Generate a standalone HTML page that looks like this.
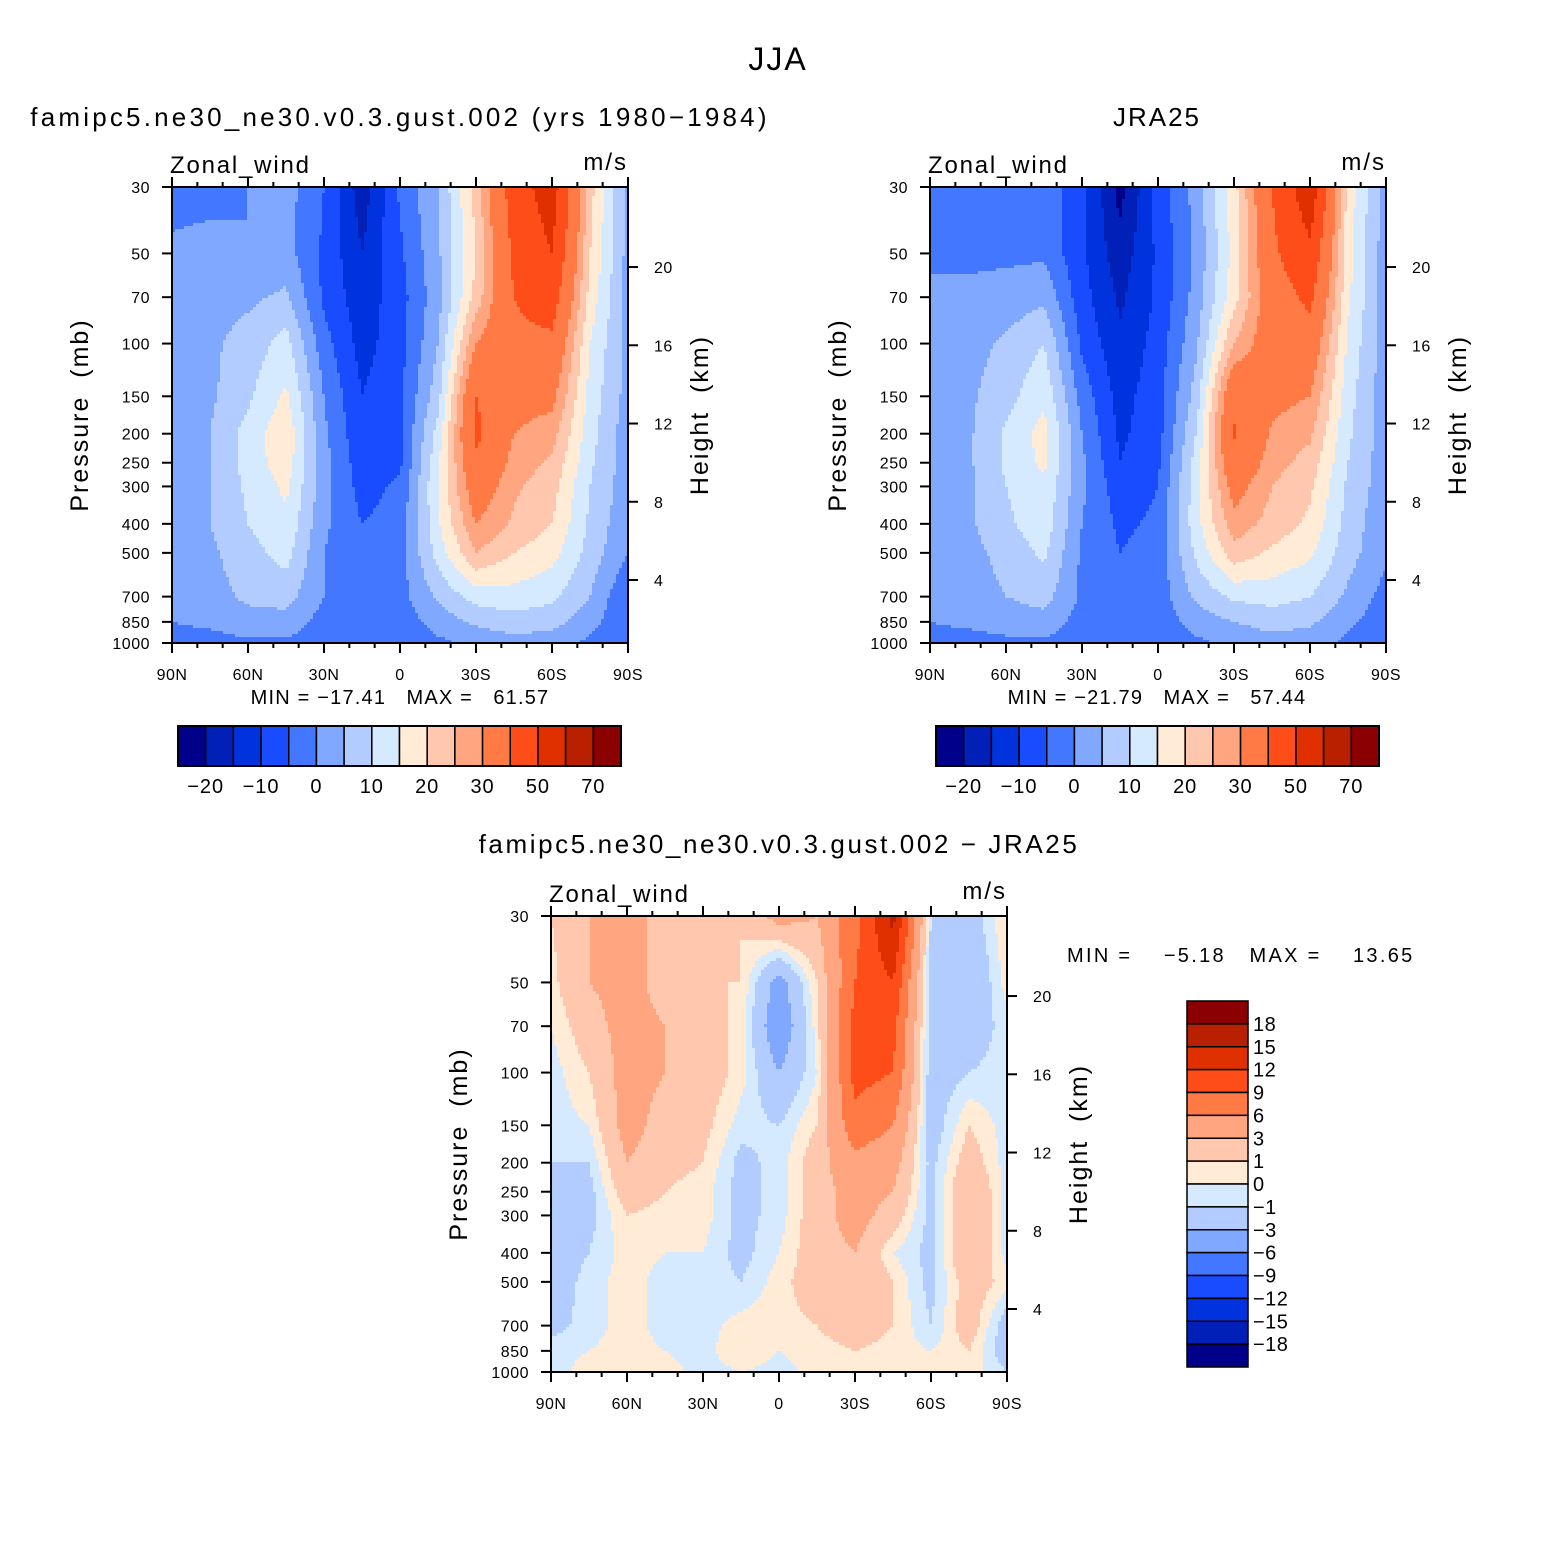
<!DOCTYPE html>
<html><head><meta charset="utf-8">
<style>
body{margin:0;background:#fff;}
svg text{font-family:"Liberation Sans",sans-serif;fill:#000;white-space:pre;}
</style></head>
<body>
<svg id="fig" xmlns="http://www.w3.org/2000/svg" width="1558" height="1558" viewBox="0 0 1558 1558">
<rect width="1558" height="1558" fill="#fff"/>
<text x="778" y="70" font-size="32" letter-spacing="2" text-anchor="middle">JJA</text>
</svg>
<script>
// ---- data ----
const lats = [90,75,60,45,30,15,0,-15,-30,-45,-60,-75,-90];
const plevs = [30,50,70,100,150,200,250,300,400,500,700,850,1000];
const pTickLabels = [30,50,70,100,150,200,250,300,400,500,700,850,1000];
const kmTickLabels = [4,8,12,16,20];
const latTickLabels = ["90N","60N","30N","0","30S","60S","90S"];
const mainLevels = [-20,-15,-10,-5,0,5,10,15,20,25,30,40,50,60,70];
const mainCbLabels = ["−20","−10","0","10","20","30","50","70"];
const diffLevels = [-18,-15,-12,-9,-6,-3,-1,0,1,3,6,9,12,15,18];
const diffCbLabels = ["18","15","12","9","6","3","1","0","−1","−3","−6","−9","−12","−15","−18"];
const colors = ["#00008a","#0020b8","#0033dd","#1a4cff","#4477ff","#80a8ff","#b3ccff","#d6eaff","#ffebd6","#ffc8ae","#ffa680","#ff7a45","#ff4d1a","#e03000","#b82000","#8b0000"];
const modelU = [
[-2,-2,0,2,-5,-18,-4,5,22,45,55,22,3],
[1,2,0,2,-6,-15,-6,4,20,42,50,20,3],
[2,3,4,6,-6,-13,-7,3,22,40,45,18,3],
[2,4,7,12,-3,-12,-7,5,30,38,38,15,3],
[2,4,9,16,0,-10,-6,8,40,33,32,13,3],
[2,5,12,19,1,-9,-6,12,42,30,27,12,2],
[2,5,12,18,2,-8,-6,14,38,28,24,11,2],
[2,5,11,16,2,-7,-4,15,35,26,22,10,2],
[2,5,10,14,1,-5,-3,14,30,24,20,9,1],
[2,4,8,12,0,-4,-2,12,25,20,17,8,0],
[1,3,6,7,0,-3,-2,6,12,13,11,5,-5],
[0,1,3,3,-2,-2,-3,2,6,8,7,2,-5],
[-2,-2,-1,-1,-3,-2,-4,-1,1,3,2,-1,-5]];
const jraU = [
[-3,-3,-3,-2,-8,-22,-8,2,18,40,57,18,2],
[-1,-1,-1,-1,-9,-18,-9,1,17,38,48,17,2],
[1,1,2,4,-8,-16,-9,2,18,35,42,16,2],
[2,3,6,10,-6,-14,-8,4,25,35,36,14,2],
[2,4,8,14,-2,-12,-7,7,38,32,30,12,2],
[2,4,11,17,0,-11,-7,10,41,29,26,11,2],
[2,4,11,16,1,-10,-6,12,37,27,23,10,2],
[2,4,10,14,1,-8,-5,13,33,25,21,9,2],
[2,4,9,13,0,-6,-4,13,28,23,19,8,1],
[2,3,7,11,-1,-5,-3,11,23,19,16,7,1],
[1,2,5,7,-1,-4,-3,6,11,12,10,4,-2],
[0,1,2,3,-2,-3,-3,2,5,7,6,1,-3],
[-2,-2,-1,-1,-3,-3,-4,-1,1,3,2,-1,-3]];
const diffU = [
[1,3,4,2,2,1,4,3,8,16,-1,-2,1],
[0.5,3,4,2,1,1,-4,1,9,12,-2,-3,0.5],
[0,2,4,3,2,0.5,-5,0.5,10,10,-2,-2,-0.5],
[-0.5,1,4,3,2,0.5,-3,0,10,9,-2,-1,-0.5],
[-0.5,0,4,2,1.5,-0.5,-1,1,8,6,-2,1,-0.5],
[-1,-1,3,1.5,1,-1.5,-0.5,2,5,4,-1.5,2,-0.5],
[-1.5,-1.5,2,1,0.5,-1.5,-0.5,2,4,3,-1.5,3,-0.5],
[-2,-1.5,1,0.5,0.5,-1.5,-0.5,2,4,2,-1.5,3,-0.5],
[-2,-1,0.5,0,0,-1.5,0,2,3,0,-1.5,3,-0.5],
[-2,-0.5,0.5,-0.5,-0.5,-1,0.5,2,3,1,-1.5,2,0.5],
[-1.5,-0.5,0.5,-0.5,-0.5,0.5,0.5,1,2,1,-1,2,-2],
[-0.5,0,0.5,0,-0.5,1,0,0.5,1,0.5,0,1,-2],
[-0.5,0.5,0.5,0.5,-0.5,0,-0.5,0.5,0.5,0.5,0.5,0.5,-1]];

const NS="http://www.w3.org/2000/svg";
const svg=document.getElementById('fig');
function mk(tag,attrs,parent,txt){const e=document.createElementNS(NS,tag);for(const k in attrs)e.setAttribute(k,attrs[k]);if(txt!==undefined)e.textContent=txt;(parent||svg).appendChild(e);return e;}
function colorFor(v,levels){let i=0;while(i<levels.length&&v>=levels[i])i++;return colors[i];}
const W=456,H=456;
function panel(ox,oy,data,levels,name){
  const g=mk('g',{});
  
  
  const lp0=Math.log(30),lp1=Math.log(1000);
  const xOf=lat=>ox+(90-lat)/180*W;
  const yOf=p=>oy+(Math.log(p)-lp0)/(lp1-lp0)*H;
  const kmY=z=>oy+393-(z-4)*19.56;
  const rowY=plevs.map(yOf), colX=lats.map(xOf);
  const cs=3;
  for(let py=0;py<H;py+=cs){
    const yc=oy+py+cs/2;
    let r=0;while(r<plevs.length-2&&rowY[r+1]<yc)r++;
    const ty=Math.min(1,Math.max(0,(yc-rowY[r])/(rowY[r+1]-rowY[r])));
    let runStart=0,runCol=null;
    for(let px=0;px<=W;px+=cs){
      let col=null;
      if(px<W){
        const xc=ox+px+cs/2;
        let c=0;while(c<lats.length-2&&colX[c+1]<xc)c++;
        const tx=Math.min(1,Math.max(0,(xc-colX[c])/(colX[c+1]-colX[c])));
        const v=(1-ty)*((1-tx)*data[r][c]+tx*data[r][c+1])+ty*((1-tx)*data[r+1][c]+tx*data[r+1][c+1]);
        col=colorFor(v,levels);
      }
      if(col!==runCol){
        if(runCol!==null){
          const rc=mk('rect',{x:ox+runStart,y:oy+py,width:Math.min(px,W)-runStart+0.5,height:Math.min(cs,H-py)+0.5,fill:runCol},g);
          
          
        }
        runStart=px;runCol=col;
      }
    }
  }
  mk('rect',{x:ox,y:oy,width:W,height:H,fill:'none',stroke:'#000','stroke-width':2},g);
  for(let lat=90;lat>=-90;lat-=10){
    const x=xOf(lat),maj=lat%30===0,l=maj?10:5;
    mk('line',{x1:x,y1:oy+H,x2:x,y2:oy+H+l,stroke:'#000','stroke-width':2},g);
    mk('line',{x1:x,y1:oy,x2:x,y2:oy-l,stroke:'#000','stroke-width':2},g);
  }
  latTickLabels.forEach((t,i)=>{
    const el=mk('text',{x:ox+i*W/6,y:oy+H+37,'font-size':16,'letter-spacing':0.5,'text-anchor':'middle'},g,t);
    
    
  });
  pTickLabels.forEach(p=>{
    const y=yOf(p);
    mk('line',{x1:ox,y1:y,x2:ox-10,y2:y,stroke:'#000','stroke-width':2},g);
    const el=mk('text',{x:ox-22,y:y+6,'font-size':16,'letter-spacing':0.5,'text-anchor':'end'},g,String(p));
    
    
  });
  kmTickLabels.forEach(k=>{
    const y=kmY(k);
    mk('line',{x1:ox+W,y1:y,x2:ox+W+10,y2:y,stroke:'#000','stroke-width':2},g);
    const el=mk('text',{x:ox+W+26,y:y+6,'font-size':16,'letter-spacing':0.5},g,String(k));
    
    
  });
  let t=mk('text',{x:ox-2,y:oy-14,'font-size':24,'letter-spacing':1.8},g,'Zonal_wind');
  
  t=mk('text',{x:ox+W,y:oy-17,'font-size':24,'letter-spacing':2,'text-anchor':'end'},g,'m/s');
  
  t=mk('text',{x:0,y:0,'font-size':25,'letter-spacing':2,'text-anchor':'middle',transform:`translate(${ox-84},${oy+228}) rotate(-90)`},g,'Pressure  (mb)');
  
  t=mk('text',{x:0,y:0,'font-size':25,'letter-spacing':2,'text-anchor':'middle',transform:`translate(${ox+W+80},${oy+228}) rotate(-90)`},g,'Height  (km)');
  
}
function hbar(ox,oy){
  const g=mk('g',{});
  
  
  const bw=443/16;
  colors.forEach((c,i)=>{mk('rect',{x:ox+i*bw,y:oy,width:bw,height:40,fill:c,stroke:'#000','stroke-width':1.5},g);});
  mk('rect',{x:ox,y:oy,width:443,height:40,fill:'none',stroke:'#000','stroke-width':2},g);
  mainCbLabels.forEach((t,i)=>{
    const el=mk('text',{x:ox+(1+2*i)*bw,y:oy+67,'font-size':20,'letter-spacing':1,'text-anchor':'middle'},g,t);
    
  });
}
function vbar(ox,oy){
  const g=mk('g',{});
  
  
  const bh=366/16;
  colors.slice().reverse().forEach((c,i)=>{mk('rect',{x:ox,y:oy+i*bh,width:61,height:bh,fill:c,stroke:'#000','stroke-width':1.5},g);});
  diffCbLabels.forEach((t,i)=>{
    const el=mk('text',{x:ox+66,y:oy+(i+1)*bh+7,'font-size':20,'letter-spacing':0.5,'text-anchor':'start'},g,t);
    
  });
}
function txt(x,y,s,fs,anchor,name,ls){const e=mk('text',{x:x,y:y,'font-size':fs,'letter-spacing':ls||0,'text-anchor':anchor||'start'},svg,s);}

panel(172,187,modelU,mainLevels,'model-panel');
panel(930,187,jraU,mainLevels,'jra25-panel');
panel(551,916,diffU,diffLevels,'difference-panel');
hbar(178,726);hbar(936,726);vbar(1187,1001);
txt(400,126,'famipc5.ne30_ne30.v0.3.gust.002 (yrs 1980−1984)',26,'middle','model-title',3.2);
txt(1157,126,'JRA25',26,'middle','jra25-title',2);
txt(779,853,'famipc5.ne30_ne30.v0.3.gust.002 − JRA25',26,'middle','difference-title',2.6);
txt(400,704,'MIN = −17.41   MAX =   61.57',20,'middle','model-min-max',1.2);
txt(1157,704,'MIN = −21.79   MAX =   57.44',20,'middle','jra25-min-max',1.2);
txt(1067,962,'MIN =    −5.18   MAX =    13.65',20,'start','difference-min-max',2.3);
</script>
</body></html>
